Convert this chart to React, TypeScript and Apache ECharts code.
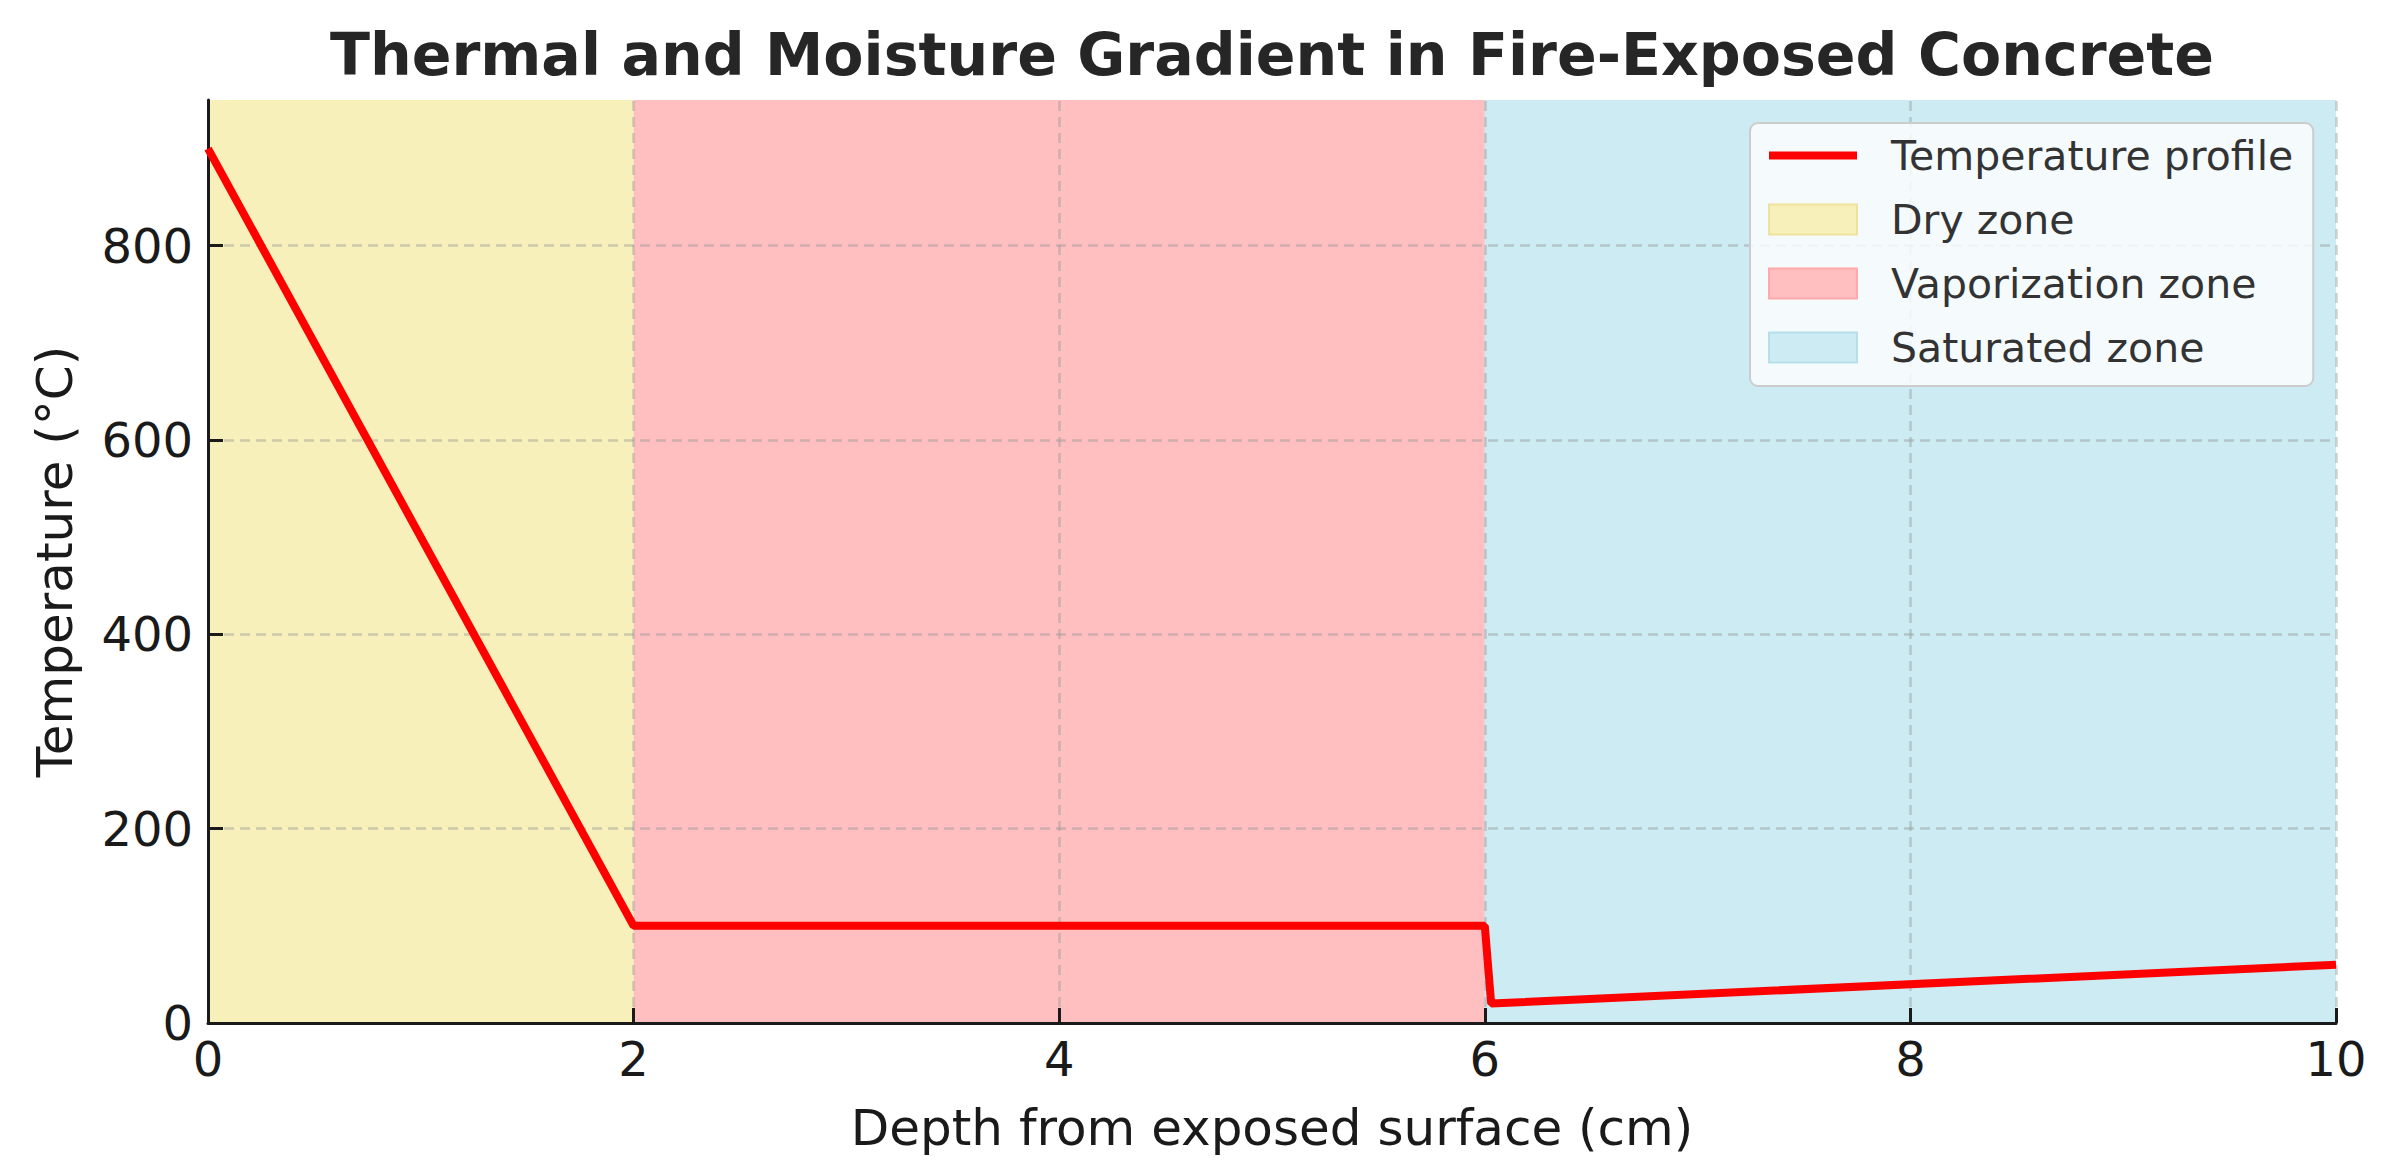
import React, { useEffect, useRef } from 'react';
import * as echarts from 'echarts';

const depth = [0, 2, 6, 6.03, 10];
const temperature = [900, 100, 100, 20, 60];
const zoneNames = ['Dry zone', 'Vaporization zone', 'Saturated zone'];
const zoneStart = [0, 2, 6];
const zoneEnd = [2, 6, 10];
const zoneColors = ['#F7F0BA', '#FFBFC0', '#CCEBF2'];
const zoneEdge = ['#EEE29C', '#FFA9AB', '#B6DFEA'];
const xTicks = [0, 2, 4, 6, 8, 10];
const yTicks = [0, 200, 400, 600, 800];
const lineName = 'Temperature profile';
const titleText = 'Thermal and Moisture Gradient in Fire-Exposed Concrete';
const xLabel = 'Depth from exposed surface (cm)';
const yLabel = 'Temperature (°C)';

const FONT = '"DejaVu Sans", Verdana, sans-serif';
const INK = '#1a1a1a';

export default function App() {
  const ref = useRef<HTMLDivElement>(null);
  useEffect(() => {
    if (!ref.current) return;
    const chart = echarts.init(ref.current, null, { renderer: 'svg' });
    const zoneSeries = zoneNames.map((name, i) => ({
      name,
      type: 'line',
      data: [],
      symbol: 'none',
      color: zoneColors[i],
      itemStyle: { color: zoneColors[i] },
      lineStyle: { color: zoneColors[i] },
      markArea: {
        silent: true,
        z: 1,
        itemStyle: { color: zoneColors[i] },
        data: [[{ xAxis: zoneStart[i] }, { xAxis: zoneEnd[i] }]],
      },
    }));
    const option = {
      animation: false,
      graphic: [
        {
          type: 'text',
          x: 1272,
          y: 55,
          style: {
            text: titleText,
            fontFamily: FONT,
            fontWeight: 'bold',
            fontSize: 58.6,
            fill: '#262626',
            align: 'center',
            verticalAlign: 'middle',
          },
        },
      ],
      grid: { left: 208, right: 50, top: 100, bottom: 148 },
      xAxis: {
        type: 'value',
        min: 0,
        max: 10,
        interval: 2,
        z: 3,
        name: xLabel,
        nameLocation: 'middle',
        nameGap: 80,
        nameTextStyle: { fontSize: 50, color: INK, fontFamily: FONT },
        axisLine: { show: true, onZero: false, lineStyle: { color: INK, width: 3 } },
        axisTick: { show: true, inside: true, length: 15, lineStyle: { color: INK, width: 3 } },
        axisLabel: { fontSize: 48, color: INK, margin: 12, fontFamily: FONT, customValues: xTicks },
        splitLine: { show: false },
      },
      yAxis: {
        type: 'value',
        min: 0,
        max: 950,
        interval: 200,
        z: 3,
        name: yLabel,
        nameLocation: 'middle',
        nameGap: 128,
        nameTextStyle: { fontSize: 50, color: INK, fontFamily: FONT },
        axisLine: { show: true, onZero: false, lineStyle: { color: INK, width: 3 } },
        axisTick: {
          show: true,
          inside: true,
          length: 15,
          lineStyle: { color: INK, width: 3 },
          customValues: yTicks,
        },
        axisLabel: {
          fontSize: 48,
          color: INK,
          margin: 15,
          fontFamily: FONT,
          customValues: yTicks,
        },
        splitLine: { show: false },
      },
      legend: {
        orient: 'vertical',
        left: 1750,
        top: 123,
        itemWidth: 88,
        itemHeight: 30,
        itemGap: 23,
        padding: [12, 20, 18, 15],
        backgroundColor: 'rgba(255,255,255,0.8)',
        borderColor: '#cccccc',
        borderWidth: 2,
        borderRadius: 8,
        textStyle: { fontSize: 41, color: '#333333', fontFamily: FONT, padding: [0, 0, 0, 29] },
        data: [
          {
            name: lineName,
            itemStyle: { opacity: 0 },
            lineStyle: { width: 8, color: '#ff0000' },
          },
          ...zoneNames.map((n, i) => ({
            name: n,
            icon: 'rect',
            itemStyle: { color: zoneColors[i], borderColor: zoneEdge[i], borderWidth: 2 },
          })),
        ],
      },
      series: [
        ...zoneSeries,
        {
          name: 'grid',
          type: 'line',
          data: [],
          silent: true,
          markLine: {
            silent: true,
            z: 2,
            symbol: ['none', 'none'],
            label: { show: false },
            lineStyle: { type: [10, 6], color: 'rgba(150,150,150,0.45)', width: 2.5 },
            data: [
              ...xTicks.filter((v) => v > 0).map((v) => ({ xAxis: v })),
              ...yTicks.filter((v) => v > 0).map((v) => ({ yAxis: v })),
            ],
          },
        },
        {
          name: lineName,
          type: 'line',
          z: 5,
          symbol: 'none',
          color: '#ff0000',
          lineStyle: { color: '#ff0000', width: 8 },
          itemStyle: { color: '#ff0000' },
          data: depth.map((d, i) => [d, temperature[i]]),
        },
      ],
    };
    chart.setOption(option as any);
    return () => chart.dispose();
  }, []);
  return (
    <div
      ref={ref}
      style={{ position: 'absolute', left: 0, top: 0, width: 2386, height: 1171, background: '#ffffff' }}
    />
  );
}
